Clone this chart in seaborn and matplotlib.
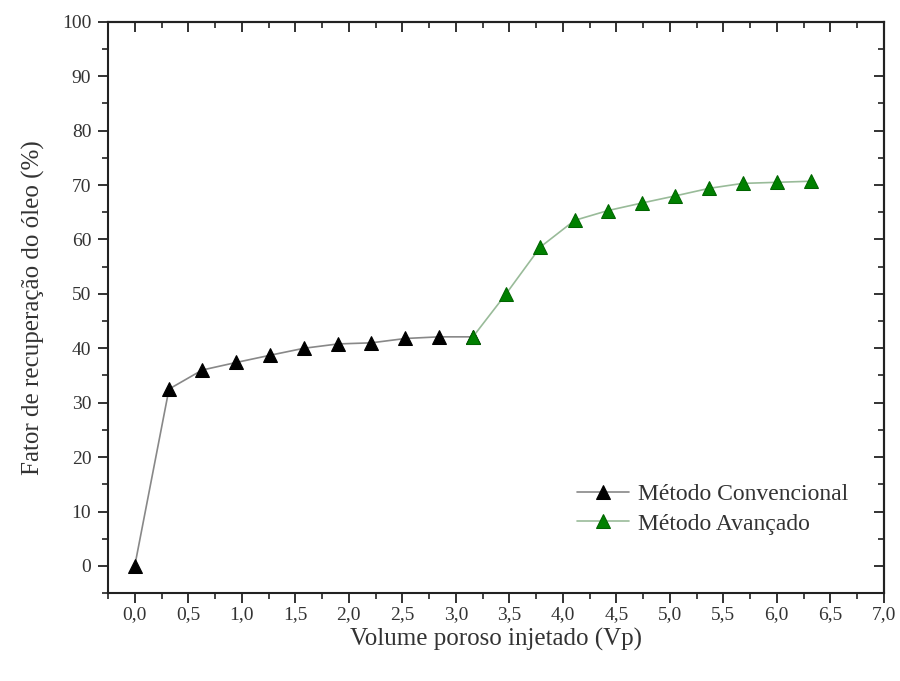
import matplotlib
matplotlib.use("Agg")
import matplotlib.pyplot as plt
from matplotlib.ticker import MultipleLocator, FuncFormatter
import pandas as pd
import seaborn as sns

# Chart data
vp_convencional = [0.0, 0.32, 0.63, 0.95, 1.26, 1.58, 1.90, 2.21, 2.53, 2.84, 3.16]
fr_convencional = [0.0, 32.5, 36.0, 37.4, 38.7, 40.0, 40.8, 41.0, 41.8, 42.1, 42.1]
vp_avancado = [3.16, 3.47, 3.79, 4.11, 4.42, 4.74, 5.05, 5.37, 5.68, 6.00, 6.32]
fr_avancado = [42.1, 50.0, 58.6, 63.5, 65.3, 66.7, 68.0, 69.4, 70.3, 70.5, 70.7]


def main():
    sns.set_style("white")
    plt.rcParams["font.family"] = ["Liberation Serif", "DejaVu Serif"]

    conv = pd.DataFrame({"vp": vp_convencional, "fr": fr_convencional})
    avan = pd.DataFrame({"vp": vp_avancado, "fr": fr_avancado})

    fig = plt.figure(figsize=(9, 6.81), dpi=100)
    ax = fig.add_axes([0.12, 0.129, 0.862, 0.839])

    sns.lineplot(data=conv, x="vp", y="fr", ax=ax, color="#888888", lw=1.2,
                 marker="^", markersize=10, markerfacecolor="black",
                 markeredgecolor="black", label="Método Convencional")
    sns.lineplot(data=avan, x="vp", y="fr", ax=ax, color="#99bb99", lw=1.2,
                 marker="^", markersize=10, markerfacecolor="#008000",
                 markeredgecolor="#006400", label="Método Avançado")

    ax.set_xlim(-0.25, 7.0)
    ax.set_ylim(-5, 100)
    ax.xaxis.set_major_locator(MultipleLocator(0.5))
    ax.xaxis.set_minor_locator(MultipleLocator(0.25))
    ax.yaxis.set_major_locator(MultipleLocator(10))
    ax.yaxis.set_minor_locator(MultipleLocator(5))
    ax.xaxis.set_major_formatter(FuncFormatter(lambda v, p: f"{v:.1f}".replace(".", ",")))
    ax.yaxis.set_major_formatter(FuncFormatter(lambda v, p: f"{v:.0f}"))

    ax.tick_params(axis="both", which="major", direction="out", length=7,
                   width=1.3, labelsize=14, color="#222222", labelcolor="#333333")
    ax.tick_params(axis="x", which="major", pad=2)
    ax.tick_params(axis="y", which="major", pad=5)
    ax.tick_params(axis="both", which="minor", direction="out", length=4,
                   width=1.2, color="#222222")
    ax.tick_params(left=True, bottom=True, which="both")

    # mirrored ticks pointing inward on top and right
    top = ax.secondary_xaxis("top")
    top.xaxis.set_major_locator(MultipleLocator(0.5))
    top.xaxis.set_minor_locator(MultipleLocator(0.25))
    top.tick_params(which="major", direction="in", length=7, width=1.3,
                    labeltop=False, color="#222222")
    top.tick_params(which="minor", direction="in", length=4, width=1.2,
                    color="#222222")
    right = ax.secondary_yaxis("right")
    right.yaxis.set_major_locator(MultipleLocator(10))
    right.yaxis.set_minor_locator(MultipleLocator(5))
    right.tick_params(which="major", direction="in", length=7, width=1.3,
                      labelright=False, color="#222222")
    right.tick_params(which="minor", direction="in", length=4, width=1.2,
                      color="#222222")

    for s in list(ax.spines.values()) + [top.spines["top"], right.spines["right"]]:
        s.set_linewidth(1.5)
        s.set_color("#222222")

    ax.set_xlabel("Volume poroso injetado (Vp)", fontsize=18, labelpad=4,
                  color="#333333")
    ax.set_ylabel("Fator de recuperação do óleo (%)", fontsize=18, labelpad=12,
                  color="#333333")

    ax.legend(loc="lower right", bbox_to_anchor=(0.982, 0.065), frameon=False,
              fontsize=17, handlelength=2.2, handletextpad=0.4, labelspacing=0.35,
              labelcolor="#333333")

    fig.savefig("out.png", dpi=100)


if __name__ == "__main__":
    main()
